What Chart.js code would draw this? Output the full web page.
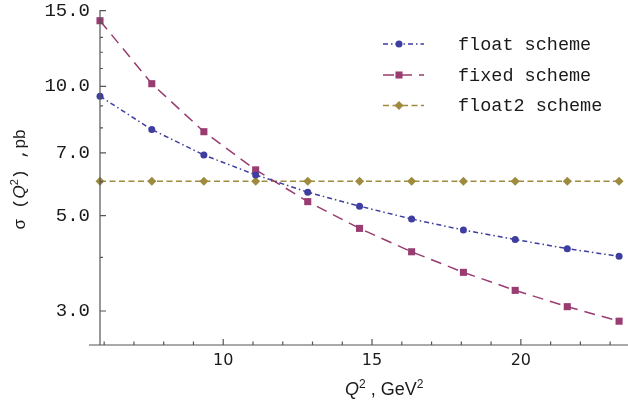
<!DOCTYPE html>
<html>
<head>
<meta charset="utf-8">
<script src="https://cdn.jsdelivr.net/npm/chart.js@4/dist/chart.umd.min.js"></script>
<style>
	html, body { margin: 0; padding: 0; background: #fff; }
	#wrap { width: 628px; height: 407px; }
</style>
</head>
<body>
<div id="wrap"><canvas id="chart" width="628" height="407"></canvas></div>
<script>
/* global Chart */
'use strict';

// Q^2 values (GeV^2) of the computed points
const Q2 = [ 5.86, 7.6, 9.35, 11.09, 12.84, 14.58, 16.33, 18.07, 19.81, 21.56, 23.3 ];

// cross sections, pb
const FLOAT_SCHEME = [ 9.48, 7.93, 6.92, 6.22, 5.67, 5.26, 4.91, 4.63, 4.40, 4.19, 4.02 ];
const FIXED_SCHEME = [ 14.21, 10.14, 7.84, 6.39, 5.39, 4.67, 4.12, 3.69, 3.35, 3.07, 2.84 ];
const FLOAT2_SCHEME = [ 6.01, 6.01, 6.01, 6.01, 6.01, 6.01, 6.01, 6.01, 6.01, 6.01, 6.01 ];

const SERIES_NAMES = [ 'float scheme', 'fixed scheme', 'float2 scheme' ];

// axis ticks; only the labelled ones get a number and a long mark
const X_TICKS = [ 6, 7, 8, 9, 10, 11, 12, 13, 14, 15, 16, 17, 18, 19, 20, 21, 22, 23 ];
const X_LABELLED = [ 10, 15, 20 ];
const Y_TICKS = [ 3, 4, 5, 6, 7, 8, 9, 10, 11, 12, 13, 14, 15 ];
const Y_LABELLED = [ 3, 5, 7, 10, 15 ];

const AXIS_COLOR = '#555555';
const TEXT_COLOR = '#1a1a1a';
const SANS = '"Liberation Sans", Arial, sans-serif';
const MONO = '"Liberation Mono", "Courier New", monospace';

function toPoints( values ) {
	return Q2.map( function ( q, i ) {
		return { x: q, y: values[ i ] };
	} );
}

// draws a run of differently styled text pieces one after another
function drawRuns( ctx, runs, x, y ) {
	let cx = x;
	runs.forEach( function ( run ) {
		ctx.font = run.font;
		ctx.fillText( run.text, cx, y - ( run.rise || 0 ) );
		cx += ctx.measureText( run.text ).width;
	} );
}

function runsWidth( ctx, runs ) {
	return runs.reduce( function ( sum, run ) {
		ctx.font = run.font;
		return sum + ctx.measureText( run.text ).width;
	}, 0 );
}

const axesPlugin = {
	id: 'mmaAxes',
	afterDraw: function ( chart ) {
		const ctx = chart.ctx;
		const area = chart.chartArea;
		const xs = chart.scales.x;
		const ys = chart.scales.y;

		ctx.save();
		ctx.strokeStyle = AXIS_COLOR;
		ctx.lineWidth = 1.2;

		// axis lines (x axis runs a little past the y axis, like Mathematica)
		ctx.beginPath();
		ctx.moveTo( area.left - 11, area.bottom );
		ctx.lineTo( area.right, area.bottom );
		ctx.moveTo( area.left, area.bottom );
		ctx.lineTo( area.left, area.top );
		ctx.stroke();

		// inward tick marks
		ctx.beginPath();
		xs.ticks.forEach( function ( t ) {
			const px = xs.getPixelForValue( t.value );
			const len = X_LABELLED.indexOf( t.value ) >= 0 ? 6 : 3.5;
			ctx.moveTo( px, area.bottom );
			ctx.lineTo( px, area.bottom - len );
		} );
		ys.ticks.forEach( function ( t ) {
			const py = ys.getPixelForValue( t.value );
			const len = Y_LABELLED.indexOf( t.value ) >= 0 ? 6 : 3;
			ctx.moveTo( area.left, py );
			ctx.lineTo( area.left + len, py );
		} );
		ctx.stroke();

		// axis titles
		ctx.fillStyle = TEXT_COLOR;
		ctx.textBaseline = 'alphabetic';
		ctx.textAlign = 'left';

		const xTitle = [
			{ text: 'Q', font: 'italic 18px ' + SANS },
			{ text: '2', font: '12px ' + SANS, rise: 7 },
			{ text: ' , GeV', font: '18px ' + SANS },
			{ text: '2', font: '12px ' + SANS, rise: 7 },
		];
		drawRuns( ctx, xTitle, area.left + 245, area.bottom + 50 );

		const yTitle = [
			{ text: 'σ', font: '17px ' + SANS },
			{ text: ' (', font: '17px ' + MONO },
			{ text: 'Q', font: 'italic 17px ' + SANS },
			{ text: '2', font: '11px ' + SANS, rise: 7 },
			{ text: ') ,', font: '17px ' + MONO },
			{ text: 'pb', font: '17px ' + SANS },
		];
		ctx.translate( 25, ( area.top + area.bottom ) / 2 + 2 );
		ctx.rotate( -Math.PI / 2 );
		drawRuns( ctx, yTitle, -runsWidth( ctx, yTitle ) / 2, 0 );
		ctx.restore();
	},
};

const legendPlugin = {
	id: 'lineLegend',
	afterDraw: function ( chart ) {
		const ctx = chart.ctx;
		const area = chart.chartArea;
		const lineFrom = area.left + 283;
		const lineTo = area.left + 324;
		const markAt = area.left + 299;
		const textAt = area.left + 358;
		const rowY = [ area.top + 34, area.top + 65, area.top + 95.5 ];

		ctx.save();
		chart.data.datasets.forEach( function ( ds, i ) {
			const y = rowY[ i ];
			ctx.strokeStyle = ds.borderColor;
			ctx.lineWidth = ds.borderWidth;
			ctx.setLineDash( ds.borderDash || [] );
			ctx.beginPath();
			ctx.moveTo( lineFrom, y );
			ctx.lineTo( lineTo, y );
			ctx.stroke();
			ctx.setLineDash( [] );

			ctx.fillStyle = ds.pointBackgroundColor;
			Chart.helpers.drawPoint( ctx, {
				pointStyle: ds.pointStyle,
				radius: ds.pointRadius,
				rotation: 0,
				borderWidth: 0,
			}, markAt, y );

			ctx.fillStyle = TEXT_COLOR;
			ctx.font = '18.5px ' + MONO;
			ctx.textAlign = 'left';
			ctx.textBaseline = 'middle';
			ctx.fillText( SERIES_NAMES[ i ], textAt, y + 1 );
		} );
		ctx.restore();
	},
};

function series( name, values, color, dash, style, radius ) {
	return {
		label: name,
		data: toPoints( values ),
		borderColor: color,
		backgroundColor: color,
		pointBackgroundColor: color,
		pointBorderWidth: 0,
		borderWidth: 1.5,
		borderDash: dash,
		pointStyle: style,
		pointRadius: radius,
		tension: 0,
		clip: false,
	};
}

new Chart( document.getElementById( 'chart' ).getContext( '2d' ), {
	type: 'line',
	data: {
		datasets: [
			series( SERIES_NAMES[ 0 ], FLOAT_SCHEME, 'rgb(62, 62, 160)', [ 5, 3, 1.5, 3 ], 'circle', 3.5 ),
			series( SERIES_NAMES[ 1 ], FIXED_SCHEME, 'rgb(153, 60, 113)', [ 11, 7 ], 'rect', 5 ),
			series( SERIES_NAMES[ 2 ], FLOAT2_SCHEME, 'rgb(158, 139, 62)', [ 6, 3.5 ], 'rectRot', 4.5 ),
		],
	},
	options: {
		responsive: false,
		animation: false,
		layout: {
			autoPadding: false,
			padding: { top: 10, right: 0, bottom: 0, left: 0 },
		},
		plugins: {
			legend: { display: false },
			tooltip: { enabled: false },
		},
		scales: {
			x: {
				type: 'linear',
				min: 5.86,
				max: 23.6,
				grid: { display: false, drawTicks: false },
				border: { display: false },
				afterBuildTicks: function ( scale ) {
					scale.ticks = X_TICKS.map( function ( v ) {
						return { value: v };
					} );
				},
				afterFit: function ( scale ) {
					scale.height = 62;
					scale.paddingLeft = 0;
					scale.paddingRight = 0;
				},
				ticks: {
					autoSkip: false,
					maxRotation: 0,
					padding: 6,
					color: TEXT_COLOR,
					font: { family: '"DejaVu Sans", sans-serif', size: 16 },
					callback: function ( v ) {
						return X_LABELLED.indexOf( v ) >= 0 ? String( v ) : '';
					},
				},
			},
			y: {
				type: 'logarithmic',
				min: 2.5,
				max: 15.05,
				grid: { display: false, drawTicks: false },
				border: { display: false },
				afterBuildTicks: function ( scale ) {
					scale.ticks = Y_TICKS.map( function ( v ) {
						return { value: v };
					} );
				},
				afterFit: function ( scale ) {
					scale.width = 100;
					scale.paddingTop = 0;
					scale.paddingBottom = 0;
				},
				ticks: {
					autoSkip: false,
					padding: 10,
					color: TEXT_COLOR,
					font: { family: MONO, size: 19 },
					callback: function ( v ) {
						return Y_LABELLED.indexOf( v ) >= 0 ? v.toFixed( 1 ) : '';
					},
				},
			},
		},
	},
	plugins: [ axesPlugin, legendPlugin ],
} );
</script>
</body>
</html>
